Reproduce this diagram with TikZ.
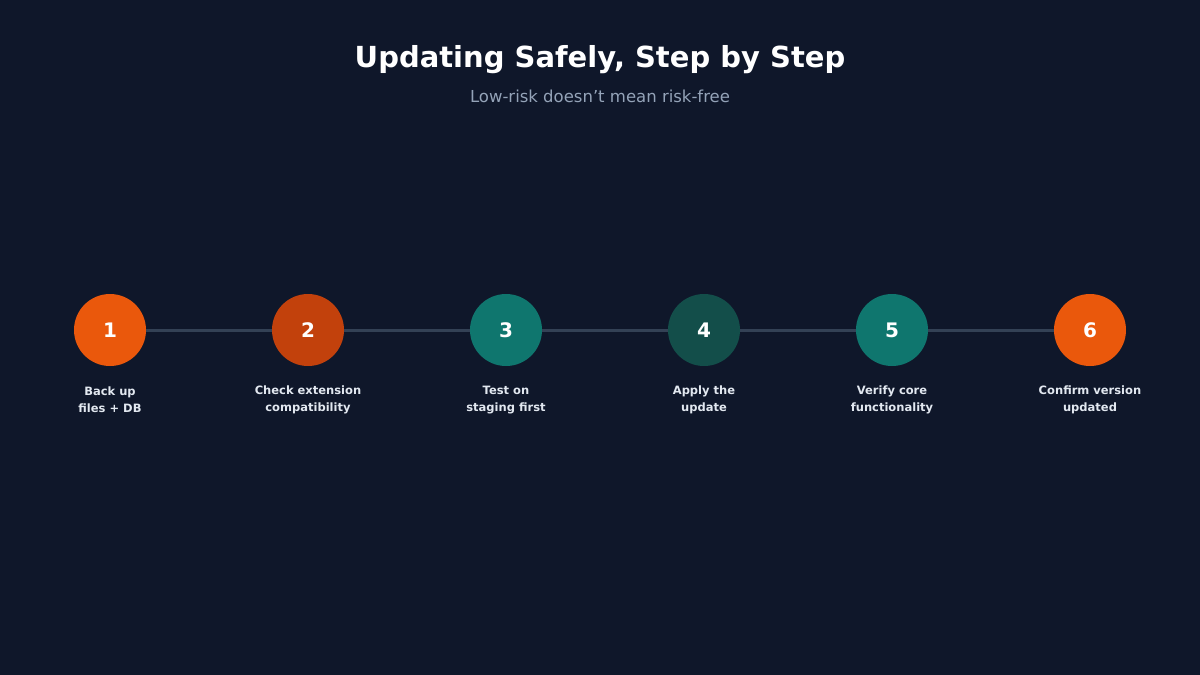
\documentclass[tikz,border=0pt]{standalone}
\usepackage{fontspec}
\setmainfont{DejaVu Sans}
\usepackage{tikz}
\usetikzlibrary{positioning}
\definecolor{bgc}{HTML}{0F172A}
\definecolor{linec}{HTML}{334155}
\definecolor{subc}{HTML}{94A3B8}
\definecolor{labc}{HTML}{E2E8F0}
\definecolor{orA}{HTML}{EA580C}
\definecolor{orB}{HTML}{C2410C}
\definecolor{tlA}{HTML}{0F766E}
\definecolor{tlB}{HTML}{134E4A}
\tikzset{
    stepdot/.style={circle, minimum size=72pt, inner sep=0pt, text=white,
        font=\fontsize{20}{24}\selectfont\bfseries},
    steplabel/.style={align=center, text=labc,
        font=\fontsize{11.5}{17}\selectfont\bfseries},
    link/.style={linec, line width=3pt}
}
\begin{document}
\begin{tikzpicture}[x=1pt, y=-1pt]

    % Fond
    \fill[bgc] (0,0) rectangle (1200,675);
    \useasboundingbox (0,0) rectangle (1200,675);

    % Titre
    \node[text=white, font=\fontsize{29}{34}\selectfont\bfseries] (title) at (600,60) {Updating Safely, Step by Step};
    \node[text=subc, font=\fontsize{16.5}{20}\selectfont] (subtitle) at (600,96) {Low-risk doesn't mean risk-free};

    % Etapes
    \foreach \i/\x/\col/\txt in {1/110/orA/{Back up\\files + DB},
                                 2/308/orB/{Check extension\\compatibility},
                                 3/506/tlA/{Test on\\staging first},
                                 4/704/tlB/{Apply the\\update},
                                 5/892/tlA/{Verify core\\functionality},
                                 6/1090/orA/{Confirm version\\updated}} {
        \node[stepdot, fill=\col] (s\i) at (\x,330) {\i};
        \node[steplabel] (l\i) at (\x,400) {\txt};
    }

    % Liens
    \foreach \a/\b in {1/2, 2/3, 3/4, 4/5, 5/6} {
        \draw[link] (s\a) -- (s\b);
    }

\end{tikzpicture}
\end{document}
